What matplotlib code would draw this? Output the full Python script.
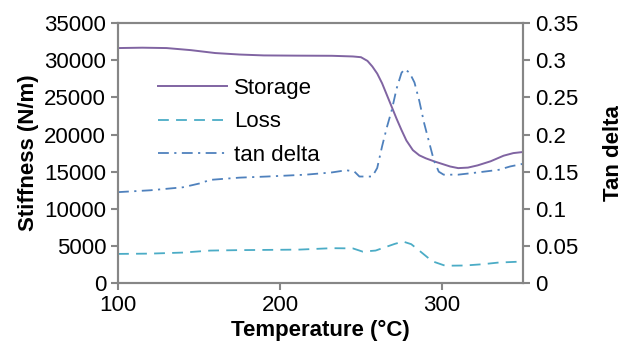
import matplotlib.pyplot as plt

# temperatures (C) and readings
temp_storage = [100, 115, 130, 145, 160, 175, 190, 210, 232, 245, 250, 254, 257, 260, 263, 266, 269, 272, 275, 278, 282, 286, 290, 295, 300, 305, 310, 316, 322, 330, 338, 344, 350]
storage = [31630, 31680, 31630, 31350, 30960, 30760, 30640, 30610, 30590, 30500, 30400, 29900, 29150, 28200, 26900, 25300, 23700, 22100, 20600, 19200, 17900, 17200, 16800, 16400, 16050, 15700, 15480, 15550, 15850, 16400, 17150, 17500, 17650]

temp_loss = [100, 120, 140, 157, 175, 192, 212, 232, 245, 251, 259, 265, 271, 276, 281, 287, 294, 302, 314, 325, 335, 343, 350]
loss = [3940, 3980, 4120, 4390, 4450, 4480, 4520, 4710, 4680, 4250, 4390, 4850, 5300, 5600, 5250, 4200, 2950, 2350, 2380, 2550, 2780, 2850, 2920]

temp_tan = [100, 120, 140, 150, 157, 175, 192, 216, 232, 241, 246, 249, 257, 260, 263, 266, 269, 272, 275, 277, 280, 283, 286, 289, 292, 295, 298, 301, 310, 322, 335, 342, 350]
tan_delta = [0.1225, 0.125, 0.129, 0.134, 0.139, 0.142, 0.1435, 0.146, 0.149, 0.152, 0.15, 0.1435, 0.1435, 0.155, 0.184, 0.21, 0.233, 0.262, 0.283, 0.288, 0.283, 0.27, 0.245, 0.215, 0.19, 0.165, 0.15, 0.146, 0.146, 0.149, 0.1525, 0.157, 0.1606]

plt.rcParams['font.family'] = ['Liberation Sans', 'DejaVu Sans']
grey = '#868686'
fs = 16

fig = plt.figure(figsize=(6.29, 3.54), dpi=100)
ax = fig.add_axes([0.1876, 0.2, 0.6439, 0.735])
ax2 = ax.twinx()

l1, = ax.plot(temp_storage, storage, color='#8064A2', lw=1.4, label='Storage')
l2, = ax.plot(temp_loss, loss, color='#4BACC6', lw=1.3, dashes=(6, 4), label='Loss')
l3, = ax2.plot(temp_tan, tan_delta, color='#4F81BD', lw=1.3, dashes=(6, 3, 1.2, 3), label='tan delta')

ax.set_xlim(100, 350)
ax.set_ylim(0, 35000)
ax2.set_ylim(0, 0.35)
ax.set_xticks([100, 200, 300])
ax.set_yticks(range(0, 35001, 5000))
ax2.set_yticks([0, 0.05, 0.1, 0.15, 0.2, 0.25, 0.3, 0.35])
ax2.set_yticklabels(['0', '0.05', '0.1', '0.15', '0.2', '0.25', '0.3', '0.35'])

for a in (ax, ax2):
    for s in a.spines.values():
        s.set_color(grey)
        s.set_linewidth(1.5)
    a.tick_params(colors=grey, labelcolor='black', labelsize=fs, width=1.5, length=5)

ax.set_xlabel('Temperature (°C)', fontsize=fs, fontweight='bold', labelpad=3)
ax.set_ylabel('Stiffness (N/m)', fontsize=fs, fontweight='bold', labelpad=4)
ax2.set_ylabel('Tan delta', fontsize=fs, fontweight='bold', labelpad=18)

ax.legend(handles=[l1, l2, l3], loc='upper left', bbox_to_anchor=(0.099, 0.788),
          frameon=False, fontsize=fs, handlelength=3.1, handletextpad=0.3,
          labelspacing=0.55, borderpad=0, borderaxespad=0)

fig.savefig('out.png', dpi=100)
